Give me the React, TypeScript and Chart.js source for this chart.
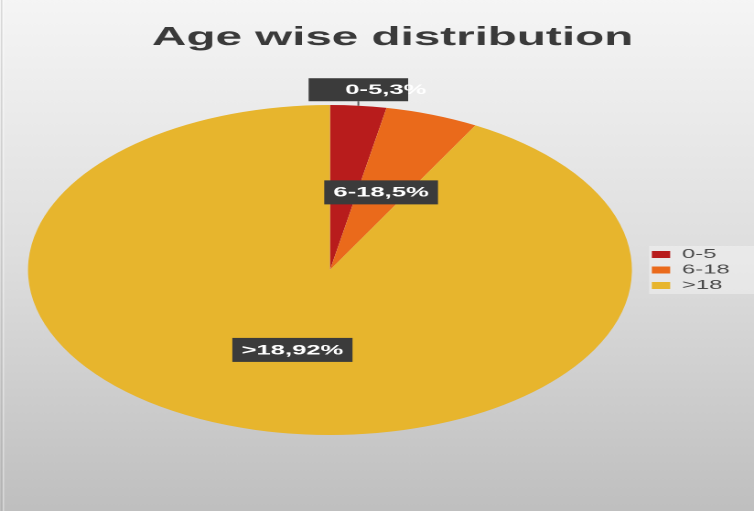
import React, { useEffect, useRef } from 'react';
import { Chart, registerables } from 'chart.js';

Chart.register(...registerables);

// ---- data ----
const categories: string[] = ['0-5', '6-18', '>18'];
const percentages: number[] = [3, 5, 92];
const sliceColors: string[] = ['#b81c1c', '#ea6a1b', '#e7b52d'];
const chartTitle = 'Age wise distribution';

// ---- layout constants ----
const SX = 1.83; // horizontal stretch of the whole picture
const W = 412; // 754 / SX (canvas units)
const H = 511;
const FONT = 'Arial, "Liberation Sans", Helvetica, sans-serif';

const backgroundPlugin = {
  id: 'bgPlugin',
  beforeDraw(chart: any) {
    const { ctx, width, height } = chart;
    ctx.save();
    const g = ctx.createLinearGradient(0, 0, 0, height);
    g.addColorStop(0, '#f5f5f5');
    g.addColorStop(0.5, '#dedede');
    g.addColorStop(1, '#bfbfbf');
    ctx.fillStyle = g;
    ctx.fillRect(0, 0, width, height);
    // thin frame on the left
    ctx.fillStyle = 'rgba(150,150,150,0.35)';
    ctx.fillRect(0.6, 0, 0.6, height);
    ctx.fillStyle = 'rgba(255,255,255,0.5)';
    ctx.fillRect(1.6, 0, 0.6, height);
    // legend panel
    const lg = chart.legend;
    if (lg && lg.legendHitBoxes && lg.legendHitBoxes.length) {
      const boxes = lg.legendHitBoxes;
      const top = boxes[0].top - 2;
      const last = boxes[boxes.length - 1];
      const bottom = last.top + last.height + 2;
      ctx.fillStyle = 'rgba(255,255,255,0.35)';
      ctx.fillRect(lg.left + 1, top, width - lg.left - 1, bottom - top);
    }
    ctx.restore();
  },
};

const titlePlugin = {
  id: 'titlePlugin',
  afterDraw(chart: any) {
    const { ctx } = chart;
    ctx.save();
    ctx.font = `bold 26px ${FONT}`;
    ctx.fillStyle = '#3a3a3a';
    ctx.textAlign = 'center';
    ctx.textBaseline = 'middle';
    ctx.fillText(chartTitle, 214.5, 38);
    ctx.restore();
  },
};

const OUTSIDE_TEXT_SHIFT = 15;

const sliceLabelPlugin = {
  id: 'sliceLabelPlugin',
  afterDraw(chart: any) {
    const { ctx } = chart;
    const meta = chart.getDatasetMeta(0);
    const values: number[] = chart.data.datasets[0].data;
    const total = values.reduce((a, b) => a + b, 0);
    ctx.save();
    ctx.font = `bold 14px ${FONT}`;
    ctx.textBaseline = 'middle';
    meta.data.forEach((el: any, i: number) => {
      const v = values[i];
      const text = `${chart.data.labels[i]},${v}%`;
      const tw = ctx.measureText(text).width;
      const pad = 5;
      const bw = tw + pad * 2;
      const { x, y, startAngle, endAngle, outerRadius } = el.getProps(
        ['x', 'y', 'startAngle', 'endAngle', 'outerRadius'],
        true
      );
      const mid = (startAngle + endAngle) / 2;
      if (v / total < 0.04) {
        const ex = x + Math.cos(mid) * outerRadius;
        const ey = y + Math.sin(mid) * outerRadius;
        const bh = 23;
        const boxBottom = ey - 4.5;
        const bx = ex - bw / 2;
        const by = boxBottom - bh;
        ctx.strokeStyle = '#5a5a5a';
        ctx.lineWidth = 1;
        ctx.beginPath();
        ctx.moveTo(ex, ey);
        ctx.lineTo(ex, boxBottom);
        ctx.stroke();
        ctx.fillStyle = '#3b3b3b';
        ctx.fillRect(bx, by, bw, bh);
        ctx.fillStyle = '#ffffff';
        ctx.textAlign = 'left';
        ctx.fillText(text, bx + pad + OUTSIDE_TEXT_SHIFT, by + bh / 2 + 0.5);
      } else {
        const p = el.tooltipPosition(true);
        const bh = 24;
        ctx.fillStyle = '#3b3b3b';
        ctx.fillRect(p.x - bw / 2, p.y - bh / 2, bw, bh);
        ctx.fillStyle = '#ffffff';
        ctx.textAlign = 'center';
        ctx.fillText(text, p.x, p.y + 0.5);
      }
    });
    ctx.restore();
  },
};

export default function App() {
  const canvasRef = useRef<HTMLCanvasElement | null>(null);

  useEffect(() => {
    document.body.style.margin = '0';
    const canvas = canvasRef.current;
    if (!canvas) return;
    const chart = new Chart(canvas, {
      type: 'pie',
      data: {
        labels: categories,
        datasets: [
          {
            data: percentages,
            backgroundColor: sliceColors,
            borderWidth: 0,
          },
        ],
      },
      options: {
        responsive: false,
        animation: false,
        devicePixelRatio: 2,
        events: [],
        layout: {
          padding: { top: 105, bottom: 76, left: 6.9, right: 3.3 },
        },
        plugins: {
          title: { display: false },
          tooltip: { enabled: false },
          legend: {
            display: true,
            position: 'right',
            align: 'center',
            labels: {
              boxWidth: 10,
              boxHeight: 7,
              padding: 2.5,
              color: '#4a4a4a',
              font: { family: FONT, size: 13 },
            },
          },
        },
      },
      plugins: [backgroundPlugin, sliceLabelPlugin, titlePlugin],
    } as any);
    return () => {
      chart.destroy();
    };
  }, []);

  return (
    <div style={{ width: 754, height: 511, overflow: 'hidden' }}>
      <canvas
        ref={canvasRef}
        width={W}
        height={H}
        style={{ width: '754px', height: '511px', display: 'block' }}
      />
    </div>
  );
}
